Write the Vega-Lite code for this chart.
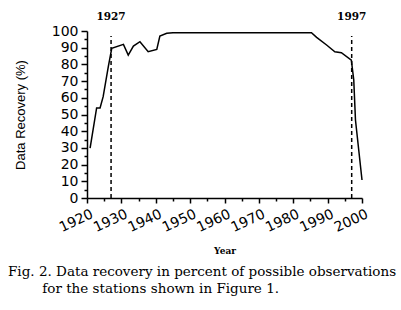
{
  "$schema": "https://vega.github.io/schema/vega-lite/v6.json",
  "width": 275,
  "height": 167,
  "autosize": {"type": "none"},
  "padding": {"left": 87, "top": 31, "right": 39, "bottom": 112},
  "background": "white",
  "config": {"view": {"stroke": null}, "axis": {"grid": false, "domainColor": "black", "tickColor": "black", "labelColor": "black", "titleColor": "black", "domainWidth": 1.5, "tickWidth": 1.5, "labelOverlap": false}},
  "title": {
    "text": ["Fig. 2. Data recovery in percent of possible observations", "\u200b\u00a0\u00a0\u00a0\u00a0\u00a0\u00a0\u00a0\u00a0for the stations shown in Figure 1."],
    "orient": "bottom",
    "anchor": "start",
    "frame": "group",
    "dx": -79,
    "offset": 10,
    "font": "DejaVu Serif",
    "fontSize": 13.5,
    "fontWeight": "normal",
    "lineHeight": 16.5,
    "color": "black"
  },
  "datasets": {
    "recovery": [
      {"year": 1920.9, "pct": 29.8},
      {"year": 1922.8, "pct": 53.9},
      {"year": 1923.8, "pct": 53.9},
      {"year": 1924.7, "pct": 60.7},
      {"year": 1926.2, "pct": 78.6},
      {"year": 1927.2, "pct": 89.6},
      {"year": 1930.6, "pct": 92},
      {"year": 1932, "pct": 85.6},
      {"year": 1933.5, "pct": 91},
      {"year": 1935.4, "pct": 93.6},
      {"year": 1937.8, "pct": 87.6},
      {"year": 1940.3, "pct": 89},
      {"year": 1941.2, "pct": 97},
      {"year": 1943.2, "pct": 98.6},
      {"year": 1945, "pct": 99},
      {"year": 1985.3, "pct": 99},
      {"year": 1986.8, "pct": 96.2},
      {"year": 1989.7, "pct": 91.6},
      {"year": 1992.1, "pct": 87.6},
      {"year": 1994, "pct": 87},
      {"year": 1996.9, "pct": 82.6},
      {"year": 1997.6, "pct": 70.7},
      {"year": 1998.1, "pct": 46.7},
      {"year": 2000, "pct": 10.8}
    ],
    "marks": [
      {"year": 1927, "label": "1927"},
      {"year": 1997, "label": "1997"}
    ]
  },
  "layer": [
    {
      "data": {"name": "recovery"},
      "mark": {"type": "line", "color": "black", "strokeWidth": 1.5},
      "encoding": {
        "x": {
          "field": "year", "type": "quantitative",
          "scale": {"domain": [1920, 2000], "nice": false, "zero": false},
          "axis": {
            "values": [1920, 1925, 1930, 1935, 1940, 1945, 1950, 1955, 1960, 1965, 1970, 1975, 1980, 1985, 1990, 1995, 2000],
            "tickCount": 40,
            "format": "d",
            "labelExpr": "datum.value % 10 == 0 ? datum.label : ''",
            "labelOverlap": false,
            "labelAngle": -25,
            "labelAlign": "right",
            "labelBaseline": "middle",
            "labelOffset": 5,
            "labelFont": "DejaVu Sans",
            "labelFontSize": 14,
            "labelPadding": 10,
            "tickSize": {"condition": {"test": "datum.value % 10 != 0", "value": 3}, "value": 5},
            "title": "Year",
            "titleFont": "DejaVu Serif",
            "titleFontSize": 9,
            "titleFontWeight": "bold",
            "titlePadding": 12
          }
        },
        "y": {
          "field": "pct", "type": "quantitative",
          "scale": {"domain": [0, 100], "nice": false},
          "axis": {
            "values": [0, 5, 10, 15, 20, 25, 30, 35, 40, 45, 50, 55, 60, 65, 70, 75, 80, 85, 90, 95, 100],
            "tickCount": 40,
            "labelExpr": "datum.value % 10 == 0 ? datum.label : ''",
            "labelOverlap": false,
            "labelFont": "DejaVu Sans",
            "labelFontSize": 14,
            "labelPadding": 3,
            "tickSize": {"condition": {"test": "datum.value % 10 != 0", "value": 3}, "value": 6},
            "title": "Data Recovery (%)",
            "titleFont": "Liberation Sans",
            "titleFontSize": 13,
            "titleFontWeight": "normal",
            "titlePadding": 24
          }
        }
      }
    },
    {
      "data": {"name": "marks"},
      "mark": {"type": "rule", "color": "black", "strokeWidth": 1.5, "strokeDash": [4, 3]},
      "encoding": {
        "x": {"field": "year", "type": "quantitative"},
        "y": {"datum": 0, "type": "quantitative"},
        "y2": {"datum": 97}
      }
    },
    {
      "data": {"name": "marks"},
      "mark": {"type": "text", "font": "DejaVu Serif", "fontSize": 10.5, "fontWeight": "bold", "color": "black", "baseline": "middle", "dy": -14},
      "encoding": {
        "x": {"field": "year", "type": "quantitative"},
        "y": {"datum": 100, "type": "quantitative"},
        "text": {"field": "label"}
      }
    }
  ]
}
